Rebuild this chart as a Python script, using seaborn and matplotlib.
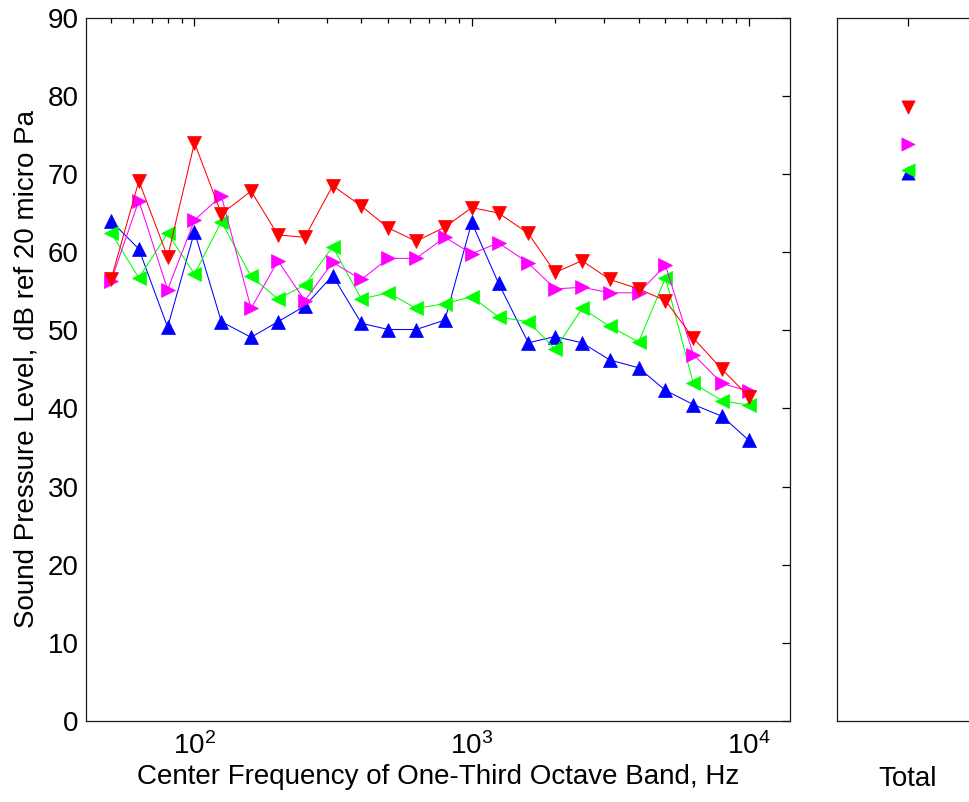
import matplotlib
matplotlib.use("Agg")
import matplotlib.pyplot as plt
import numpy as np
import pandas as pd
import seaborn as sns
from matplotlib.ticker import LogLocator, FixedLocator, NullFormatter

# one-third octave band centre frequencies, Hz
freqs = [50, 63, 80, 100, 125, 160, 200, 250, 315, 400, 500, 630, 800,
         1000, 1250, 1600, 2000, 2500, 3150, 4000, 5000, 6300, 8000, 10000]

# sound pressure level per band, dB ref 20 micro Pa
spl_red = [56.5, 69.1, 59.4, 74.0, 64.9, 67.8, 62.2, 61.9, 68.5, 65.9, 63.1, 61.4,
           63.2, 65.7, 65.0, 62.4, 57.4, 58.9, 56.5, 55.3, 53.8, 49.0, 45.0, 41.5]
spl_magenta = [56.3, 66.6, 55.2, 64.1, 67.2, 52.8, 58.9, 53.8, 58.7, 56.5, 59.2, 59.2,
               61.9, 59.8, 61.2, 58.6, 55.3, 55.5, 54.8, 54.8, 58.3, 46.9, 43.2, 42.2]
spl_green = [62.5, 56.7, 62.4, 57.2, 63.9, 56.9, 54.0, 55.8, 60.7, 54.0, 54.8, 52.8,
             53.4, 54.3, 51.7, 51.1, 47.6, 52.8, 50.5, 48.5, 56.7, 43.2, 41.0, 40.4]
spl_blue = [64.0, 60.4, 50.4, 62.6, 51.1, 49.1, 51.1, 53.1, 57.0, 50.9, 50.1, 50.1,
            51.3, 63.8, 56.0, 48.4, 49.2, 48.4, 46.2, 45.2, 42.3, 40.5, 39.0, 35.9]

# overall levels
total_red = 78.6
total_magenta = 73.8
total_green = 70.5
total_blue = 70.1

series = [
    ("blue", spl_blue, total_blue, "#0000ff", "^"),
    ("green", spl_green, total_green, "#00ff00", "<"),
    ("magenta", spl_magenta, total_magenta, "#ff00ff", ">"),
    ("red", spl_red, total_red, "#ff0000", "v"),
]

sns.set_style("white")
plt.rcParams["font.family"] = ["Liberation Sans", "DejaVu Sans"]
plt.rcParams["mathtext.fontset"] = "custom"
plt.rcParams["mathtext.rm"] = "Liberation Sans"
plt.rcParams["axes.linewidth"] = 0.9
plt.rcParams["axes.edgecolor"] = "#1a1a1a"
plt.rcParams["text.color"] = "black"
plt.rcParams["axes.labelcolor"] = "black"
plt.rcParams["xtick.color"] = "black"
plt.rcParams["ytick.color"] = "black"

fs = 20

fig = plt.figure(figsize=(9.69, 8.02), dpi=100)
ax = fig.add_axes([0.0884, 0.1010, 0.7272, 0.8769])
ax2 = fig.add_axes([0.8635, 0.1010, 0.1465, 0.8769])

ax.set_xscale("log")
for name, vals, tot, color, mk in series:
    df = pd.DataFrame({"freq": freqs, "spl": vals})
    sns.lineplot(data=df, x="freq", y="spl", ax=ax, color=color, linewidth=0.75,
                 marker=mk, markersize=9.5, markeredgecolor=color, markeredgewidth=0.5)
    sns.scatterplot(x=[1], y=[tot], ax=ax2, color=color, marker=mk, s=90,
                    edgecolor=color, linewidth=0.5)

ax.set_xlim(40.5, 14100)
ax.set_ylim(0, 90)
ax.set_yticks(np.arange(0, 91, 10))
ax.xaxis.set_major_locator(LogLocator(base=10, numticks=10))
ax.xaxis.set_minor_locator(LogLocator(base=10, subs=np.arange(2, 10), numticks=10))
ax.xaxis.set_minor_formatter(NullFormatter())
ax.tick_params(axis="both", which="both", direction="in", top=True, right=True,
               labelsize=fs, width=0.9)
ax.tick_params(which="major", length=6)
ax.tick_params(which="minor", length=3.5)
ax.tick_params(axis="x", pad=8)
ax.tick_params(axis="y", pad=5)
ax.set_xlabel("Center Frequency of One-Third Octave Band, Hz", fontsize=fs, labelpad=3)
ax.set_ylabel("Sound Pressure Level, dB ref 20 micro Pa", fontsize=fs, labelpad=6)

ax2.set_xlim(0.5, 1.5)
ax2.set_ylim(0, 90)
ax2.set_yticks(np.arange(0, 91, 10))
ax2.set_yticklabels([])
ax2.xaxis.set_major_locator(FixedLocator([1]))
ax2.set_xticklabels([""])
ax2.tick_params(axis="both", which="both", direction="in", top=True, right=True,
                length=6, width=0.9)
ax2.set_xlabel("Total", fontsize=fs, labelpad=29)
ax2.set_ylabel("")

fig.savefig("out.png", dpi=100)
